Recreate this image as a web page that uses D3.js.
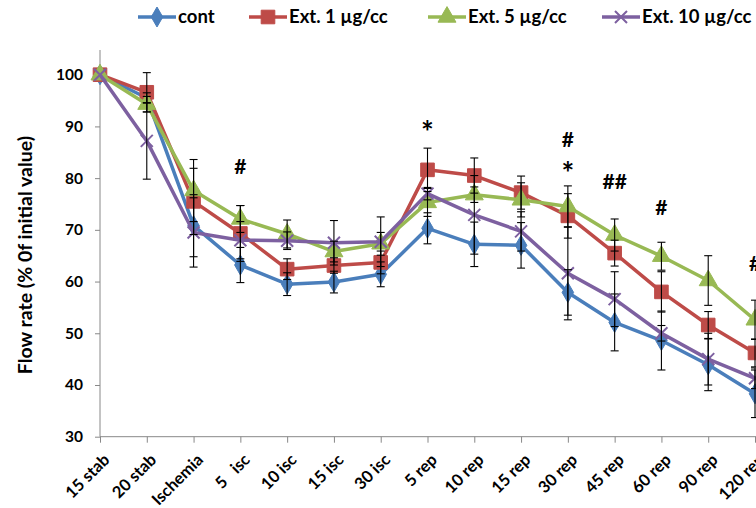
<!DOCTYPE html>
<html><head><meta charset="utf-8">
<script src="https://cdn.jsdelivr.net/npm/d3@7/dist/d3.min.js"></script>
<style>
body{margin:0;background:#fff;}
svg{display:block;font-family:Lato,"Open Sans",sans-serif;font-weight:bold;}
</style></head>
<body><svg id="chart" width="756" height="508"></svg>
<script>
const categories = ["15 stab","20 stab","Ischemia","5   isc","10 isc","15 isc","30 isc","5 rep","10 rep","15 rep","30 rep","45 rep","60 rep","90 rep","120 rep"];
const seriesNames = ["cont","Ext. 1 µg/cc","Ext. 5 µg/cc","Ext. 10 µg/cc"];
const contValues  = [100, 95.5, 70.8, 63.2, 59.5, 59.9, 61.4, 70.3, 67.2, 67.0, 57.9, 52.1, 48.6, 43.9, 38.3];
const contErr     = [0, 1, 6, 3.4, 2.2, 2.1, 2.4, 3, 4.3, 4.4, 4.4, 5.5, 5.7, 5, 4.6];
const ext1Values  = [100, 96.6, 75.5, 69.3, 62.4, 63.1, 63.7, 81.6, 80.5, 77.2, 72.7, 65.5, 58.0, 51.6, 46.2];
const ext1Err     = [0, 3.8, 6.4, 5.4, 2.0, 1.5, 2.2, 4.2, 3.4, 3.2, 4.3, 2.5, 3.9, 2.6, 2.7];
const ext5Values  = [100, 94.3, 77.6, 72.1, 69.2, 65.8, 67.3, 75.3, 76.8, 75.8, 74.5, 69.0, 64.9, 60.2, 52.6];
const ext5Err     = [0, 1.5, 6, 2.6, 2.7, 2, 2.2, 2.7, 1.5, 3.3, 4, 3.1, 2.7, 4.8, 3.8];
const ext10Values = [100, 87.2, 69.5, 68.0, 67.9, 67.5, 67.7, 77.0, 72.9, 69.7, 61.6, 56.6, 50.0, 45.0, 41.3];
const ext10Err    = [0, 7.4, 6.7, 3.6, 1.7, 4.3, 4.8, 1.2, 7.6, 3.8, 9, 5.3, 1.5, 5, 2];
const yTicks = [30, 40, 50, 60, 70, 80, 90, 100];
const annCats   = ["5   isc", "5 rep", "30 rep", "30 rep", "45 rep", "60 rep", "120 rep"];
const annValues = [82.2, 91.0, 87.4, 83.0, 79.3, 74.4, 63.6];
const annTexts  = ["#", "*", "#", "*", "##", "#", "#"];

const colors = ["#4A7EBB", "#BE4B48", "#98B954", "#7D60A0"];
const shapes = ["diamond", "square", "triangle", "x"];
const series = seriesNames.map((n, i) => ({
  name: n, color: colors[i], shape: shapes[i],
  values: [contValues, ext1Values, ext5Values, ext10Values][i],
  err: [contErr, ext1Err, ext5Err, ext10Err][i]
}));

const svg = d3.select("#chart");
const x = d3.scalePoint().domain(categories).range([100, 755]);
const y = d3.scaleLinear().domain([30, 100]).range([436.7, 74.7]);

function markerPath(shape) {
  if (shape === "diamond") return d3.symbol(d3.symbolDiamond, 115)();
  if (shape === "square") return d3.symbol(d3.symbolSquare, 185)();
  if (shape === "triangle") return d3.symbol(d3.symbolTriangle, 140)();
  const r = 6;
  return `M${-r},${-r}L${r},${r}M${-r},${r}L${r},${-r}`;
}
function drawMarker(g, s, cx, cy) {
  const p = g.append("path").attr("d", markerPath(s.shape))
    .attr("transform", `translate(${cx},${cy})`);
  if (s.shape === "x") p.attr("fill", "none").attr("stroke", s.color).attr("stroke-width", 2);
  else p.attr("fill", s.color).attr("stroke", s.color).attr("stroke-width", 1);
}

// axes
const yAxis = d3.axisLeft(y).tickValues(yTicks).tickSize(5).tickPadding(12);
const gy = svg.append("g").attr("transform", "translate(100,0)").call(yAxis);
gy.select(".domain").remove();
gy.append("line").attr("x1", 0).attr("x2", 0).attr("y1", 50).attr("y2", y(30)).attr("stroke", "#888").attr("stroke-width", 1);
gy.selectAll(".tick line").attr("stroke", "#888");
gy.selectAll(".tick text").attr("fill", "#000").style("font-size", "15.5px").style("font-weight", "bold").style("font-family", "Lato, sans-serif");

const xAxis = d3.axisBottom(x).tickSize(6).tickPadding(4);
const gx = svg.append("g").attr("transform", `translate(0,${y(30)})`).call(xAxis);
gx.select(".domain").attr("stroke", "#888").attr("d", `M100,0H756`);
gx.selectAll(".tick line").attr("stroke", "#888");
gx.selectAll(".tick text").attr("fill", "#000")
  .style("font-size", "16.5px").style("font-weight", "bold").style("font-family", "Lato, sans-serif")
  .style("white-space", "pre")
  .attr("text-anchor", "end").attr("dy", "0.35em")
  .attr("transform", "translate(6,20) rotate(-45)").attr("y", 0).attr("x", 0);

svg.append("text").attr("transform", `translate(25,255) rotate(-90)`)
  .attr("text-anchor", "middle").attr("dy", "0.35em")
  .style("font-size", "19.5px").text("Flow rate (% 0f initial value)");

// series lines and markers
const line = d3.line().x((d, i) => x(categories[i])).y(d => y(d));
series.forEach(s => {
  svg.append("path").datum(s.values).attr("d", line)
    .attr("fill", "none").attr("stroke", s.color).attr("stroke-width", 3.5).attr("stroke-linejoin", "round");
  const g = svg.append("g");
  s.values.forEach((v, i) => drawMarker(g, s, x(categories[i]), y(v)));
});
// error bars
const eg = svg.append("g").attr("stroke", "#000").attr("stroke-width", 1.1);
series.forEach(s => {
  s.values.forEach((v, i) => {
    const e = s.err[i]; if (!e) return;
    const cx = x(categories[i]);
    eg.append("line").attr("x1", cx).attr("x2", cx).attr("y1", y(v + e)).attr("y2", y(v - e));
    eg.append("line").attr("x1", cx - 4).attr("x2", cx + 4).attr("y1", y(v + e)).attr("y2", y(v + e));
    eg.append("line").attr("x1", cx - 4).attr("x2", cx + 4).attr("y1", y(v - e)).attr("y2", y(v - e));
  });
});
// annotations
annTexts.forEach((t, i) => {
  svg.append("text").attr("x", x(annCats[i])).attr("y", y(annValues[i]))
    .attr("text-anchor", "middle").attr("dy", t === "*" ? "0.72em" : "0.36em")
    .style("font-size", t === "*" ? "30px" : "21px").style("font-family", "Lato, sans-serif").text(t);
});

// legend
const legX = [138, 249, 428, 602];
series.forEach((s, i) => {
  const g = svg.append("g").attr("transform", `translate(${legX[i]},17)`);
  g.append("line").attr("x1", 0).attr("x2", 38).attr("y1", 0).attr("y2", 0)
    .attr("stroke", s.color).attr("stroke-width", 3.5);
  drawMarker(g, s, 19, 0);
  g.append("text").attr("x", 40).attr("y", 0).attr("dy", "0.35em")
    .style("font-size", "18.5px").style("font-family", "Lato, sans-serif").text(s.name);
});
</script></body></html>
